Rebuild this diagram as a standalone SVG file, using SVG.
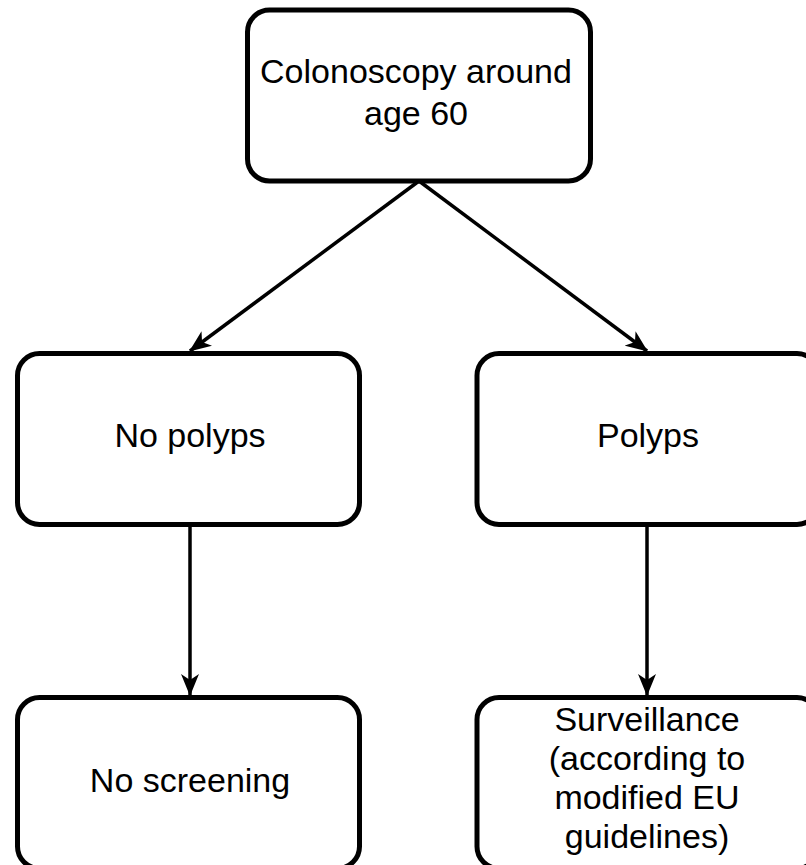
<svg xmlns="http://www.w3.org/2000/svg" width="806" height="865" viewBox="0 0 806 865">
<style>
.box{fill:#fff;stroke:#000;stroke-width:5}
.lbl{font-family:"Liberation Sans",Arial,sans-serif;font-size:34px;fill:#000;text-anchor:middle}
.edge{stroke:#000;stroke-width:3.5;fill:none}
</style>
<defs>
<marker id="arr" viewBox="0 0 22 18" refX="21" refY="9" markerWidth="22" markerHeight="18" markerUnits="userSpaceOnUse" orient="auto">
<path d="M0,0 L22,9 L0,18 L6,9 Z" fill="#000"/>
</marker>
</defs>
<rect width="806" height="865" fill="#fff"/>
<g id="connectors">
<line class="edge" x1="419" y1="181" x2="190" y2="351" marker-end="url(#arr)"/>
<line class="edge" x1="419" y1="181" x2="647" y2="351" marker-end="url(#arr)"/>
<line class="edge" x1="190" y1="526" x2="190" y2="695" marker-end="url(#arr)"/>
<line class="edge" x1="647" y1="526" x2="647" y2="695" marker-end="url(#arr)"/>
</g>
<g id="colonoscopy">
<rect class="box" x="247.5" y="10" width="343" height="171" rx="22"/>
<text class="lbl" x="416" y="83">Colonoscopy around</text>
<text class="lbl" x="416" y="125">age 60</text>
</g>
<g id="no-polyps">
<rect class="box" x="17.5" y="353.5" width="342" height="171" rx="22"/>
<text class="lbl" x="190" y="447">No polyps</text>
</g>
<g id="polyps">
<rect class="box" x="477" y="353.5" width="342" height="171" rx="22"/>
<text class="lbl" x="648" y="447">Polyps</text>
</g>
<g id="no-screening">
<rect class="box" x="17.5" y="697.5" width="342" height="171" rx="22"/>
<text class="lbl" x="190" y="792">No screening</text>
</g>
<g id="surveillance">
<rect class="box" x="477" y="697.5" width="342" height="171" rx="22"/>
<text class="lbl" x="647" y="731">Surveillance</text>
<text class="lbl" x="647" y="770">(according to</text>
<text class="lbl" x="647" y="809">modified EU</text>
<text class="lbl" x="647" y="848">guidelines)</text>
</g>
</svg>
